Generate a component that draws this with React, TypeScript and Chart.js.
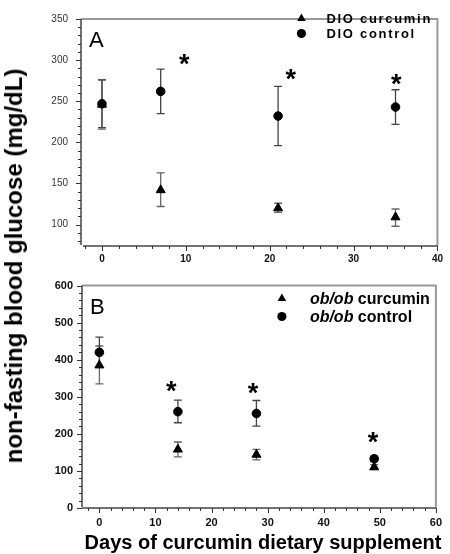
import React, { useEffect, useRef } from "react";
import { Chart, registerables } from "chart.js";

Chart.register(...registerables);

const FONT = "'Liberation Sans', Arial, Helvetica, sans-serif";

// ---------- Panel A (DIO) ----------
const daysA = [0, 7, 21, 35];
const curcuminA = [246, 142, 120, 109];
const curcuminAHigh = [276, 163, 126, 119];
const curcuminALow = [216, 122, 115, 98];
const controlA = [247, 262, 232, 243];
const controlAHigh = [276, 289, 268, 264];
const controlALow = [218, 235, 196, 222];
const starsAX = [9.8, 22.5, 35.1];
const starsAY = [301, 282, 277];
const legendA = ["DIO curcumin", "DIO control"];
const xTicksA = [0, 10, 20, 30, 40];
const yTicksA = [100, 150, 200, 250, 300, 350];

// ---------- Panel B (ob/ob) ----------
const daysB = [0, 14, 28, 49];
const curcuminB = [385, 158, 144, 110];
const curcuminBHigh = [437, 178, 158, 117];
const curcuminBLow = [335, 138, 130, 104];
const controlB = [420, 260, 255, 133];
const controlBHigh = [461, 291, 290, 140];
const controlBLow = [380, 230, 221, 126];
const starsBX = [12.8, 27.4, 48.8];
const starsBY = [328, 323, 190];
const legendB = ["ob/ob curcumin", "ob/ob control"];
const italicPrefixB = "ob/ob";
const xTicksB = [0, 10, 20, 30, 40, 50, 60];
const yTicksB = [0, 100, 200, 300, 400, 500, 600];

const yTitle = "non-fasting blood glucose (mg/dL)";
const xTitle = "Days of curcumin dietary supplement";

type Panel = {
  letter: string;
  days: number[];
  cur: number[];
  curHigh: number[];
  curLow: number[];
  ctl: number[];
  ctlHigh: number[];
  ctlLow: number[];
  starsX: number[];
  starsY: number[];
  legend: string[];
  italicPrefix: string;
  xTicks: number[];
  yTicks: number[];
  xMin: number;
  xMax: number;
  yMin: number;
  yMax: number;
  xMinor: number;
  yMinor: number;
  xMajor: number;
  yMajor: number;
  padding: { top: number; right: number; left: number; bottom: number };
  yWidth: number;
  xHeight: number;
  yTickFont: any;
  xTickFont: any;
  yTickColor: string;
  yTickPad: number;
  xTickPad: number;
  legendMarkerDX: number;
  legendTextDX: number;
  legendRows: number[];
  legendFont: number;
  legendSpacing: string;
  xAxisStart: number;
};

function makeDecor(p: Panel) {
  return {
    id: "decor" + p.letter,
    beforeDatasetsDraw(chart: any) {
      const ctx = chart.ctx;
      const xs = chart.scales.x;
      const ys = chart.scales.y;
      const drawBars = (hi: number[], lo: number[], color: string) => {
        ctx.save();
        ctx.strokeStyle = color;
        ctx.lineWidth = 1.3;
        p.days.forEach((d, i) => {
          const x = xs.getPixelForValue(d);
          const yh = ys.getPixelForValue(hi[i]);
          const yl = ys.getPixelForValue(lo[i]);
          ctx.beginPath();
          ctx.moveTo(x, yh);
          ctx.lineTo(x, yl);
          ctx.moveTo(x - 4, yh);
          ctx.lineTo(x + 4, yh);
          ctx.moveTo(x - 4, yl);
          ctx.lineTo(x + 4, yl);
          ctx.stroke();
        });
        ctx.restore();
      };
      drawBars(p.curHigh, p.curLow, "#666");
      drawBars(p.ctlHigh, p.ctlLow, "#444");
    },
    afterDraw(chart: any) {
      const ctx = chart.ctx;
      const ca = chart.chartArea;
      const xs = chart.scales.x;
      const ys = chart.scales.y;
      ctx.save();
      // box top/right
      ctx.strokeStyle = "#999";
      ctx.lineWidth = 2;
      ctx.beginPath();
      ctx.moveTo(ca.left, ca.top);
      ctx.lineTo(ca.right, ca.top);
      ctx.lineTo(ca.right, ca.bottom);
      ctx.stroke();
      // left and bottom axes
      ctx.strokeStyle = "#444";
      ctx.lineWidth = 1.5;
      ctx.beginPath();
      ctx.moveTo(ca.left, ca.top);
      ctx.lineTo(ca.left, ca.bottom - 1);
      ctx.moveTo(ca.left + p.xAxisStart, ca.bottom);
      ctx.lineTo(ca.right, ca.bottom);
      ctx.stroke();
      // ticks
      ctx.lineWidth = 1;
      ctx.strokeStyle = "#333";
      ctx.beginPath();
      for (let v = Math.ceil(p.yMin / p.yMinor) * p.yMinor; v <= p.yMax + 1e-9; v += p.yMinor) {
        const y = Math.round(ys.getPixelForValue(v)) + 0.5;
        const len = Math.abs(v % p.yMajor) < 1e-9 ? 5 : 3;
        ctx.moveTo(ca.left - len, y);
        ctx.lineTo(ca.left, y);
      }
      for (let v = Math.ceil(p.xMin / p.xMinor) * p.xMinor; v <= p.xMax + 1e-9; v += p.xMinor) {
        const x = Math.round(xs.getPixelForValue(v)) + 0.5;
        const len = Math.abs(v % p.xMajor) < 1e-9 ? 5 : 3;
        ctx.moveTo(x, ca.bottom);
        ctx.lineTo(x, ca.bottom + len);
      }
      ctx.stroke();

      // panel letter
      ctx.fillStyle = "#000";
      ctx.font = `22px ${FONT}`;
      ctx.textAlign = "left";
      ctx.textBaseline = "alphabetic";
      ctx.fillText(p.letter, ca.left + 8, ca.top + 28);

      // legend
      const markers = ["triangle", "circle"];
      p.legend.forEach((lab, i) => {
        const y = p.legendRows[i];
        const mx = ca.right - p.legendMarkerDX;
        ctx.fillStyle = "#000";
        ctx.beginPath();
        if (markers[i] === "triangle") {
          const r = 5;
          ctx.moveTo(mx, y - r);
          ctx.lineTo(mx + r * 0.866, y + r * 0.5);
          ctx.lineTo(mx - r * 0.866, y + r * 0.5);
          ctx.closePath();
        } else {
          ctx.arc(mx, y, 4.6, 0, Math.PI * 2);
        }
        ctx.fill();
        let tx = ca.right - p.legendTextDX;
        ctx.textBaseline = "middle";
        ctx.textAlign = "left";
        (ctx as any).letterSpacing = p.legendSpacing;
        if (p.italicPrefix && lab.startsWith(p.italicPrefix)) {
          ctx.font = `italic bold ${p.legendFont}px ${FONT}`;
          ctx.fillText(p.italicPrefix, tx, y + 1);
          tx += ctx.measureText(p.italicPrefix).width;
          ctx.font = `bold ${p.legendFont}px ${FONT}`;
          ctx.fillText(lab.slice(p.italicPrefix.length), tx, y + 1);
        } else {
          ctx.font = `bold ${p.legendFont}px ${FONT}`;
          ctx.fillText(lab, tx, y + 1);
        }
        (ctx as any).letterSpacing = "0px";
      });

      // significance stars
      ctx.font = `bold 27px ${FONT}`;
      ctx.textAlign = "center";
      ctx.textBaseline = "alphabetic";
      const m = ctx.measureText("*");
      const off = (m.actualBoundingBoxAscent - m.actualBoundingBoxDescent) / 2;
      p.starsX.forEach((sx, i) => {
        const x = xs.getPixelForValue(sx);
        const y = ys.getPixelForValue(p.starsY[i]);
        ctx.fillText("*", x, y + off);
      });
      ctx.restore();
    },
  };
}

function buildConfig(p: Panel): any {
  return {
    type: "scatter",
    data: {
      datasets: [
        {
          label: p.legend[0],
          data: p.days.map((d, i) => ({ x: d, y: p.cur[i] })),
          pointStyle: "triangle",
          pointRadius: 5.2,
          backgroundColor: "#000",
          borderColor: "#000",
          borderWidth: 1,
          order: 1,
        },
        {
          label: p.legend[1],
          data: p.days.map((d, i) => ({ x: d, y: p.ctl[i] })),
          pointStyle: "circle",
          pointRadius: 4.3,
          backgroundColor: "#000",
          borderColor: "#000",
          borderWidth: 1,
          order: 0,
        },
      ],
    },
    options: {
      animation: false,
      responsive: false,
      events: [],
      layout: { padding: p.padding },
      plugins: { legend: { display: false }, tooltip: { enabled: false } },
      scales: {
        x: {
          type: "linear",
          min: p.xMin,
          max: p.xMax,
          grid: { display: false, drawTicks: false },
          border: { display: false },
          afterBuildTicks: (s: any) => {
            s.ticks = p.xTicks.map((v) => ({ value: v }));
          },
          afterFit: (s: any) => {
            s.height = p.xHeight;
          },
          ticks: {
            font: p.xTickFont,
            color: "#111",
            padding: p.xTickPad,
            autoSkip: false,
            maxRotation: 0,
          },
        },
        y: {
          type: "linear",
          min: p.yMin,
          max: p.yMax,
          grid: { display: false, drawTicks: false },
          border: { display: false },
          afterBuildTicks: (s: any) => {
            s.ticks = p.yTicks.map((v) => ({ value: v }));
          },
          afterFit: (s: any) => {
            s.width = p.yWidth;
          },
          ticks: {
            font: p.yTickFont,
            color: p.yTickColor,
            padding: p.yTickPad,
            autoSkip: false,
          },
        },
      },
    },
    plugins: [makeDecor(p)],
  };
}

const panelA: Panel = {
  letter: "A",
  days: daysA,
  cur: curcuminA,
  curHigh: curcuminAHigh,
  curLow: curcuminALow,
  ctl: controlA,
  ctlHigh: controlAHigh,
  ctlLow: controlALow,
  starsX: starsAX,
  starsY: starsAY,
  legend: legendA,
  italicPrefix: "",
  xTicks: xTicksA,
  yTicks: yTicksA,
  xMin: -2.5,
  xMax: 40,
  yMin: 74,
  yMax: 350,
  xMinor: 2,
  yMinor: 10,
  xMajor: 10,
  yMajor: 50,
  padding: { top: 4, right: 7, left: 0, bottom: 0 },
  yWidth: 81,
  xHeight: 24,
  yTickFont: { family: FONT, size: 10, weight: "normal" },
  xTickFont: { family: FONT, size: 10, weight: "bold" },
  yTickColor: "#333",
  yTickPad: 13,
  xTickPad: 7,
  legendMarkerDX: 136,
  legendTextDX: 111,
  legendRows: [18.5, 33.5],
  legendFont: 13,
  legendSpacing: "1.7px",
  xAxisStart: 2,
};

const panelB: Panel = {
  letter: "B",
  days: daysB,
  cur: curcuminB,
  curHigh: curcuminBHigh,
  curLow: curcuminBLow,
  ctl: controlB,
  ctlHigh: controlBHigh,
  ctlLow: controlBLow,
  starsX: starsBX,
  starsY: starsBY,
  legend: legendB,
  italicPrefix: italicPrefixB,
  xTicks: xTicksB,
  yTicks: yTicksB,
  xMin: -3.1,
  xMax: 60,
  yMin: 0,
  yMax: 600,
  xMinor: 2,
  yMinor: 20,
  xMajor: 10,
  yMajor: 100,
  padding: { top: 12, right: 6, left: 0, bottom: 0 },
  yWidth: 82,
  xHeight: 46,
  yTickFont: { family: FONT, size: 11, weight: "bold" },
  xTickFont: { family: FONT, size: 11, weight: "bold" },
  yTickColor: "#111",
  yTickPad: 9,
  xTickPad: 8,
  legendMarkerDX: 154,
  legendTextDX: 126,
  legendRows: [28.5, 46.5],
  legendFont: 16,
  legendSpacing: "0px",
  xAxisStart: 0,
};

function ChartCanvas({ panel, top, height }: { panel: Panel; top: number; height: number }) {
  const ref = useRef<HTMLCanvasElement | null>(null);
  useEffect(() => {
    if (!ref.current) return;
    const chart = new Chart(ref.current, buildConfig(panel));
    return () => chart.destroy();
  }, [panel]);
  return (
    <canvas
      ref={ref}
      width={450}
      height={height}
      style={{ position: "absolute", left: 0, top, width: 450, height }}
    />
  );
}

export default function App() {
  return (
    <div
      style={{
        position: "fixed",
        left: 0,
        top: 0,
        width: 450,
        height: 554,
        background: "#fff",
        overflow: "hidden",
      }}
    >
      <ChartCanvas panel={panelA} top={0} height={270} />
      <ChartCanvas panel={panelB} top={270} height={284} />
      <div
        style={{
          position: "absolute",
          left: 14,
          top: 266,
          transform: "translate(-50%, -50%) rotate(-90deg)",
          whiteSpace: "nowrap",
          font: `bold 24px ${FONT}`,
          lineHeight: "24px",
          color: "#000",
        }}
      >
        {yTitle}
      </div>
      <div
        style={{
          position: "absolute",
          left: 263,
          top: 532,
          transform: "translateX(-50%)",
          whiteSpace: "nowrap",
          font: `bold 20px ${FONT}`,
          lineHeight: "20px",
          color: "#000",
        }}
      >
        {xTitle}
      </div>
    </div>
  );
}
